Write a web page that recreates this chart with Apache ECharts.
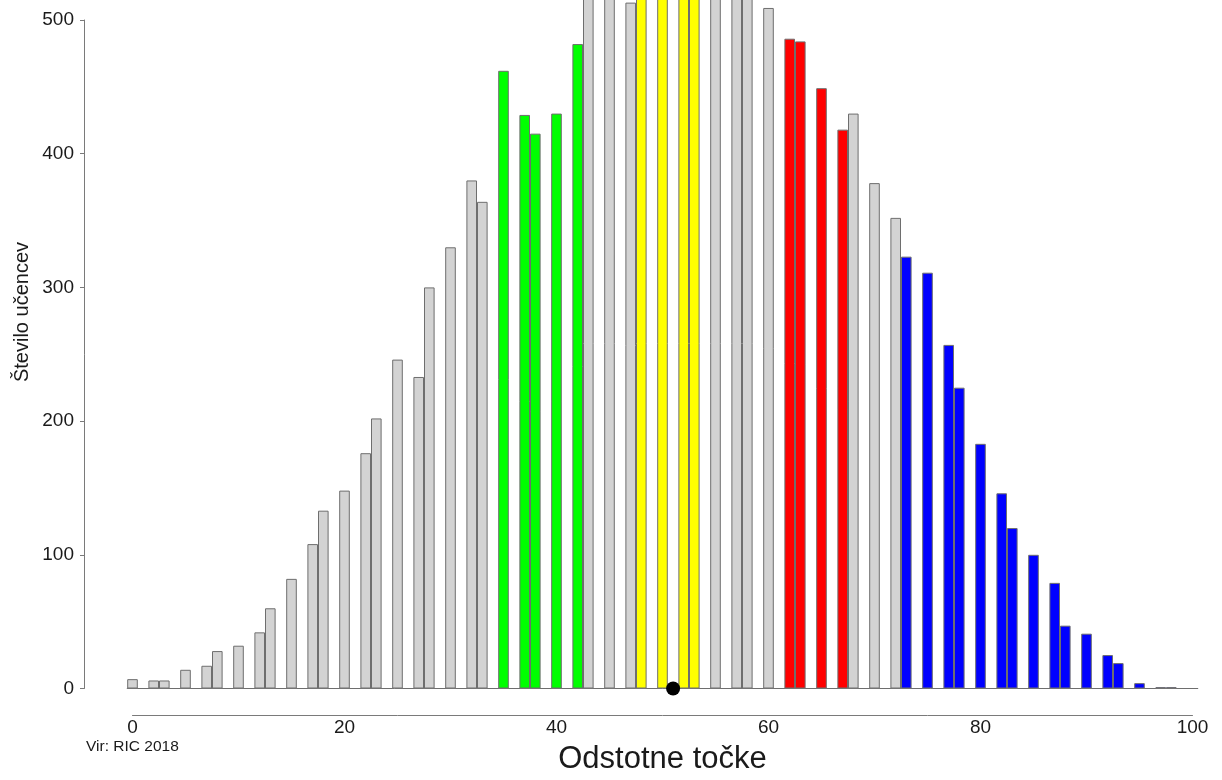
<!DOCTYPE html>
<html>
<head>
<meta charset="utf-8">
<script src="https://cdn.jsdelivr.net/npm/echarts@6/dist/echarts.min.js"></script>
<style>
html,body{margin:0;padding:0;background:#fff;}
#chart{width:1222px;height:780px;}
</style>
</head>
<body>
<div id="chart"></div>
<script>
// Achievable percentage scores (60-point test) and number of pupils per score
const scores = [0,2,3,5,7,8,10,12,13,15,17,18,20,22,23,25,27,28,30,32,33,35,37,38,40,42,43,45,47,48,50,52,53,55,57,58,60,62,63,65,67,68,70,72,73,75,77,78,80,82,83,85,87,88,90,92,93,95,97,98,100];
const counts = [7,6,6,14,17,28,32,42,60,82,108,133,148,176,202,246,233,300,330,380,364,462,429,415,430,482,530,545,513,560,575,570,565,555,545,540,509,486,484,449,418,430,378,352,323,311,257,225,183,146,120,100,79,47,41,25,19,4,1,1,0];
const greenScores = [35,37,38,40,42];
const yellowScores = [48,50,52,53];
const redScores = [62,63,65,67];
const blueScores = [73,75,77,78,80,82,83,85,87,88,90,92,93,95,97,98];
const meanScore = 51;
const xTicks = [0,20,40,60,80,100];
const yTicks = [0,100,200,300,400,500];

const categories = [];
for (let i = 0; i <= 100; i++) categories.push(String(i));
const countMap = {};
scores.forEach((s, i) => { countMap[s] = counts[i]; });
function colorFor(s) {
  if (greenScores.includes(s)) return '#00ff00';
  if (yellowScores.includes(s)) return '#ffff00';
  if (redScores.includes(s)) return '#ff0000';
  if (blueScores.includes(s)) return '#0000ff';
  return '#d3d3d3';
}
const barData = categories.map((c, i) => ({
  value: countMap[i] !== undefined ? countMap[i] : 0,
  itemStyle: { color: colorFor(i) }
}));

const FONT = "'Liberation Sans', Arial, sans-serif";
const chart = echarts.init(document.getElementById('chart'), null, {renderer: 'canvas'});
chart.setOption({
  animation: false,
  backgroundColor: '#ffffff',
  grid: [
    {left: 127.2, right: 24.2, top: 20, bottom: 91.5},
    {left: 132.5, right: 29.5, top: 20, bottom: 91.5}
  ],
  xAxis: [
    {
      type: 'category', gridIndex: 0, data: categories, boundaryGap: true,
      axisLine: {show: true, onZero: true, lineStyle: {color: '#7a7a7a', width: 1}},
      axisTick: {show: false}, axisLabel: {show: false}, splitLine: {show: false}
    },
    {
      type: 'value', gridIndex: 1, min: xTicks[0], max: xTicks[xTicks.length - 1], interval: 20,
      position: 'bottom', offset: 29,
      axisLine: {show: true, onZero: false, lineStyle: {color: '#7a7a7a', width: 1}},
      axisTick: {show: false},
      axisLabel: {margin: 3, fontSize: 19, fontFamily: FONT, color: '#1a1a1a'},
      splitLine: {show: false},
      name: 'Odstotne točke', nameLocation: 'middle', nameGap: 29,
      nameTextStyle: {fontSize: 31, fontFamily: FONT, color: '#1a1a1a'}
    }
  ],
  yAxis: [
    {
      type: 'value', gridIndex: 0, min: yTicks[0], max: yTicks[yTicks.length - 1], interval: 100,
      offset: 43.2,
      axisLine: {show: true, lineStyle: {color: '#7a7a7a', width: 1}},
      axisTick: {show: true, inside: false, length: 4, lineStyle: {color: '#7a7a7a'}},
      axisLabel: {margin: 10, fontSize: 19, fontFamily: FONT, color: '#1a1a1a'},
      splitLine: {show: false}
    },
    {type: 'value', gridIndex: 1, show: false, min: 0, max: 500}
  ],
  graphic: [
    {
      type: 'text', left: 86, top: 739,
      style: {text: 'Vir: RIC 2018', font: "15.5px 'Liberation Sans', Arial, sans-serif", fill: '#1a1a1a'}
    },
    {
      type: 'text', x: 22, y: 312, rotation: Math.PI / 2,
      style: {text: 'Število učencev', font: "20px 'Liberation Sans', Arial, sans-serif", fill: '#1a1a1a', align: 'center', verticalAlign: 'middle'}
    }
  ],
  series: [
    {
      type: 'bar', xAxisIndex: 0, yAxisIndex: 0, data: barData,
      barCategoryGap: '0%', clip: false,
      itemStyle: {borderColor: '#6e6e6e', borderWidth: 1}
    },
    {
      type: 'scatter', xAxisIndex: 0, yAxisIndex: 0,
      data: [[String(meanScore), 0]], symbolSize: 14,
      itemStyle: {color: '#000000', opacity: 1}, z: 5
    }
  ]
});
</script>
</body>
</html>
